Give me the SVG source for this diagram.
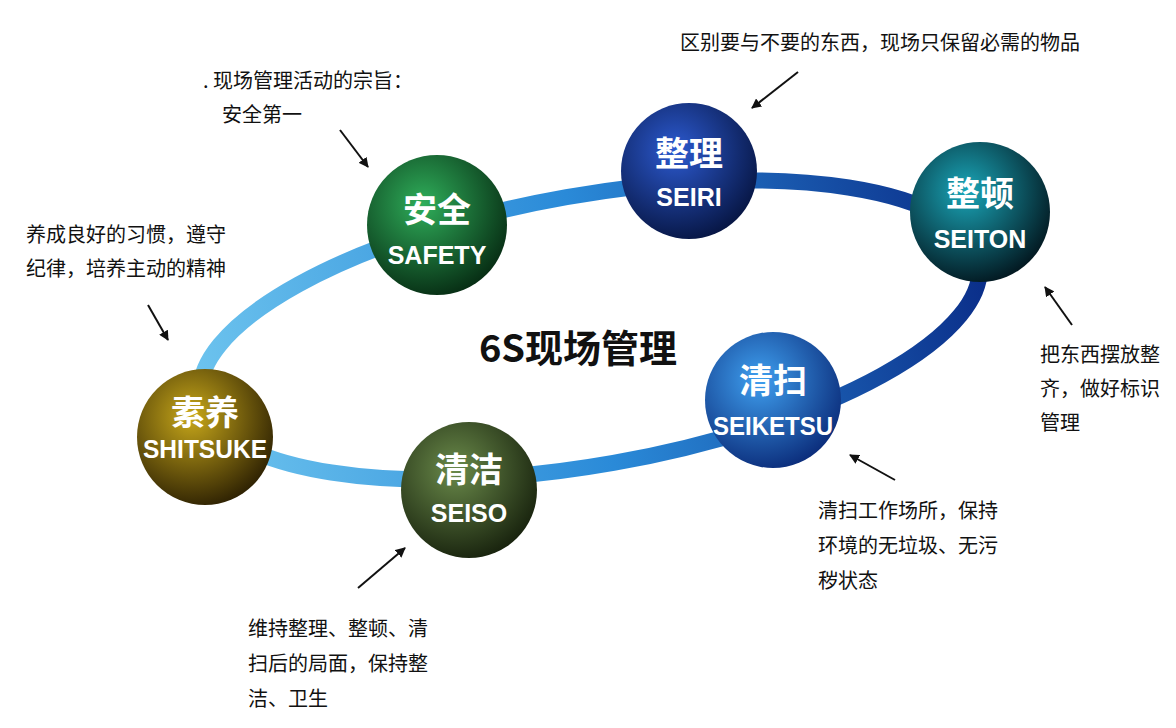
<svg xmlns="http://www.w3.org/2000/svg" width="1176" height="728" viewBox="0 0 1176 728">
<style>
.t{font-family:"Noto Sans CJK SC","Liberation Sans",sans-serif;font-size:20px;fill:#111}
.cn{font-family:"Noto Sans CJK SC",sans-serif;font-size:34px;font-weight:bold;fill:#fff;text-anchor:middle}
.en{font-family:"Liberation Sans",Arial,sans-serif;font-size:25px;font-weight:bold;fill:#fff;text-anchor:middle}
.a{stroke:#111;stroke-width:2;fill:none;marker-end:url(#ah)}
</style>
<defs>
<linearGradient id="ring" x1="0" y1="0" x2="1" y2="0"><stop offset="0" stop-color="#6cc3ee"/><stop offset="0.5" stop-color="#2a8ad8"/><stop offset="1" stop-color="#0b2f8a"/></linearGradient>
<radialGradient id="g1" cx="0.4" cy="0.35" r="0.7"><stop offset="0" stop-color="#2fae5a"/><stop offset="1" stop-color="#062a12"/></radialGradient>
<radialGradient id="g2" cx="0.4" cy="0.35" r="0.7"><stop offset="0" stop-color="#2c5ad0"/><stop offset="1" stop-color="#061440"/></radialGradient>
<radialGradient id="g3" cx="0.4" cy="0.35" r="0.7"><stop offset="0" stop-color="#1aa6b8"/><stop offset="1" stop-color="#02141c"/></radialGradient>
<radialGradient id="g4" cx="0.4" cy="0.35" r="0.7"><stop offset="0" stop-color="#3fa0f0"/><stop offset="1" stop-color="#0a2a78"/></radialGradient>
<radialGradient id="g5" cx="0.4" cy="0.35" r="0.7"><stop offset="0" stop-color="#6a8a4a"/><stop offset="1" stop-color="#16200c"/></radialGradient>
<radialGradient id="g6" cx="0.4" cy="0.35" r="0.7"><stop offset="0" stop-color="#c8a81a"/><stop offset="1" stop-color="#2a1e02"/></radialGradient>
<marker id="ah" markerWidth="10" markerHeight="10" refX="9" refY="5" orient="auto" markerUnits="userSpaceOnUse"><path d="M0,0 L10,5 L0,10 z" fill="#111"/></marker>
</defs>
<rect width="1176" height="728" fill="#fff"/>
<g id="connectors">
<ellipse cx="590" cy="330" rx="395" ry="135" transform="rotate(-10 590 330)" fill="none" stroke="url(#ring)" stroke-width="16"/>
<line class="a" x1="340" y1="130" x2="368" y2="167"/>
<line class="a" x1="798" y1="72" x2="752" y2="108"/>
<line class="a" x1="1072" y1="325" x2="1045" y2="287"/>
<line class="a" x1="895" y1="480" x2="850" y2="455"/>
<line class="a" x1="358" y1="588" x2="405" y2="548"/>
<line class="a" x1="148" y1="305" x2="168" y2="340"/>
</g>
<g id="safety"><circle cx="437" cy="225" r="70" fill="url(#g1)"/><text class="cn" x="437" y="222">安全</text><text class="en" x="437" y="264">SAFETY</text></g>
<g id="seiri"><circle cx="689" cy="171" r="68" fill="url(#g2)"/><text class="cn" x="689" y="166">整理</text><text class="en" x="689" y="206">SEIRI</text></g>
<g id="seiton"><circle cx="980" cy="212" r="70" fill="url(#g3)"/><text class="cn" x="980" y="206">整顿</text><text class="en" x="980" y="248">SEITON</text></g>
<g id="seiketsu"><circle cx="773" cy="400" r="68" fill="url(#g4)"/><text class="cn" x="773" y="393">清扫</text><text class="en" x="773" y="435" textLength="120" lengthAdjust="spacingAndGlyphs">SEIKETSU</text></g>
<g id="seiso"><circle cx="469" cy="490" r="68" fill="url(#g5)"/><text class="cn" x="469" y="482">清洁</text><text class="en" x="469" y="522">SEISO</text></g>
<g id="shitsuke"><circle cx="205" cy="437" r="68" fill="url(#g6)"/><text class="cn" x="205" y="425">素养</text><text class="en" x="205" y="458" textLength="124" lengthAdjust="spacingAndGlyphs">SHITSUKE</text></g>
<text x="578" y="362" font-family="Noto Sans CJK SC,sans-serif" font-size="38" font-weight="bold" fill="#111" text-anchor="middle">6S现场管理</text>
<text class="t" x="203" y="88">.  现场管理活动的宗旨：</text>
<text class="t" x="222" y="122">安全第一</text>
<text class="t" x="680" y="50">区别要与不要的东西，现场只保留必需的物品</text>
<text class="t" x="26" y="242">养成良好的习惯，遵守</text>
<text class="t" x="26" y="276">纪律，培养主动的精神</text>
<text class="t" x="1040" y="362">把东西摆放整</text>
<text class="t" x="1040" y="396">齐，做好标识</text>
<text class="t" x="1040" y="430">管理</text>
<text class="t" x="818" y="518">清扫工作场所，保持</text>
<text class="t" x="818" y="553">环境的无垃圾、无污</text>
<text class="t" x="818" y="588">秽状态</text>
<text class="t" x="248" y="636">维持整理、整顿、清</text>
<text class="t" x="248" y="671">扫后的局面，保持整</text>
<text class="t" x="248" y="706">洁、卫生</text>
</svg>
